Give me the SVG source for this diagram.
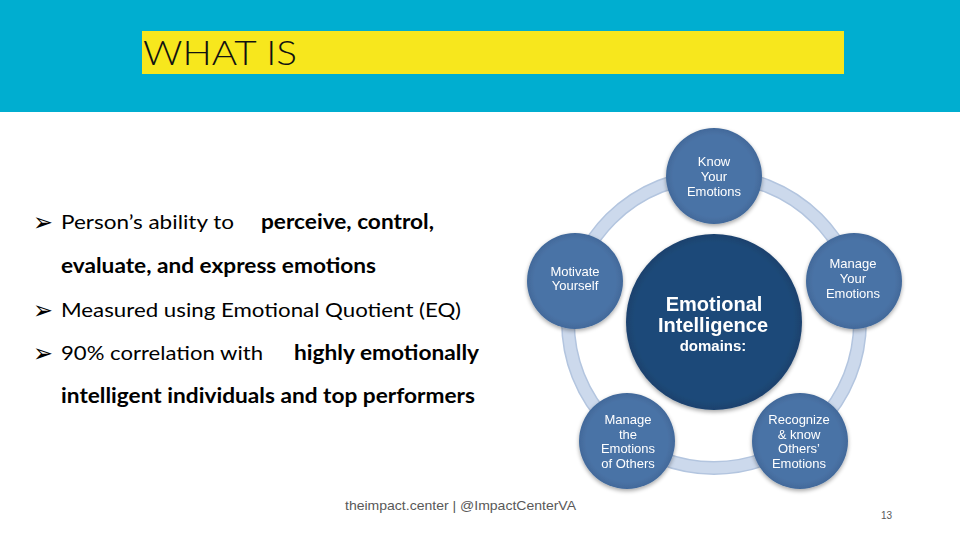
<svg xmlns="http://www.w3.org/2000/svg" width="960" height="540" viewBox="0 0 960 540">
<defs>
<style>
.body{font-family:Lato,"Open Sans","Liberation Sans",sans-serif;font-size:20px;fill:#000}
.b{font-weight:bold}
.bul{font-family:"DejaVu Sans",sans-serif;font-size:26px;fill:#000}
.ct{font-family:"Liberation Sans",Arial,sans-serif;font-size:13px;fill:#fff;text-anchor:middle}
.big{font-family:"Liberation Sans",Arial,sans-serif;font-weight:bold;fill:#fff;text-anchor:middle}
.outer{fill:url(#og)}
</style>
<radialGradient id="og" cx="50%" cy="50%" r="50%">
<stop offset="0.85" stop-color="#4A73A6"/>
<stop offset="1" stop-color="#42699A"/>
</radialGradient>
<radialGradient id="cg" cx="50%" cy="50%" r="50%">
<stop offset="0.9" stop-color="#1F4A79"/>
<stop offset="1" stop-color="#1A416D"/>
</radialGradient>
<filter id="sh" x="-20%" y="-20%" width="140%" height="140%">
<feGaussianBlur in="SourceAlpha" stdDeviation="2"/>
<feOffset dx="0" dy="1.5"/>
<feComponentTransfer><feFuncA type="linear" slope="0.35"/></feComponentTransfer>
<feMerge><feMergeNode/><feMergeNode in="SourceGraphic"/></feMerge>
</filter>
</defs>
<rect width="960" height="540" fill="#fff"/>
<g id="header">
<rect x="0" y="0" width="960" height="112" fill="#00AED0"/>
<rect x="142" y="31" width="702" height="43" fill="#F7E71D"/>
<text x="143" y="65" font-family="Lato,'Open Sans',sans-serif" font-weight="300" font-size="34" fill="#111" textLength="154" lengthAdjust="spacingAndGlyphs">WHAT IS</text>
</g>
<g id="bullets">
<text class="bul" x="33" y="231" textLength="20" lengthAdjust="spacingAndGlyphs">➢</text>
<text class="body" x="61" y="229" textLength="173" lengthAdjust="spacingAndGlyphs">Person’s ability to</text>
<text class="body b" x="261" y="229" textLength="173" lengthAdjust="spacingAndGlyphs">perceive, control,</text>
<text class="body b" x="61" y="273" textLength="315" lengthAdjust="spacingAndGlyphs">evaluate, and express emotions</text>
<text class="bul" x="33" y="319" textLength="20" lengthAdjust="spacingAndGlyphs">➢</text>
<text class="body" x="61" y="317" textLength="400" lengthAdjust="spacingAndGlyphs">Measured using Emotional Quotient (EQ)</text>
<text class="bul" x="33" y="362" textLength="20" lengthAdjust="spacingAndGlyphs">➢</text>
<text class="body" x="61" y="360" textLength="202" lengthAdjust="spacingAndGlyphs">90% correlation with</text>
<text class="body b" x="294" y="360" textLength="185" lengthAdjust="spacingAndGlyphs">highly emotionally</text>
<text class="body b" x="61" y="403" textLength="414" lengthAdjust="spacingAndGlyphs">intelligent individuals and top performers</text>
</g>
<g id="connectors">
<circle cx="714" cy="322" r="146" fill="none" stroke="#B3C5DF" stroke-width="14"/>
<circle cx="714" cy="322" r="146" fill="none" stroke="#CCD9EC" stroke-width="11"/>
</g>
<g id="center" filter="url(#sh)">
<circle cx="714" cy="322" r="88" fill="url(#cg)"/>
<text class="big" x="714" y="311" font-size="20">Emotional</text>
<text class="big" x="713" y="332" font-size="20">Intelligence</text>
<text class="big" x="713" y="351" font-size="15">domains:</text>
</g>
<g id="know" filter="url(#sh)">
<circle class="outer" cx="714" cy="176" r="48"/>
<text class="ct" x="714" y="166">Know</text>
<text class="ct" x="714" y="181">Your</text>
<text class="ct" x="714" y="196">Emotions</text>
</g>
<g id="manage-your" filter="url(#sh)">
<circle class="outer" cx="854" cy="281" r="48"/>
<text class="ct" x="853" y="268">Manage</text>
<text class="ct" x="853" y="283">Your</text>
<text class="ct" x="853" y="298">Emotions</text>
</g>
<g id="recognize" filter="url(#sh)">
<circle class="outer" cx="800" cy="441" r="48"/>
<text class="ct" x="799" y="424">Recognize</text>
<text class="ct" x="799" y="439">&amp; know</text>
<text class="ct" x="799" y="453">Others’</text>
<text class="ct" x="799" y="468">Emotions</text>
</g>
<g id="manage-others" filter="url(#sh)">
<circle class="outer" cx="627" cy="441" r="48"/>
<text class="ct" x="628" y="424">Manage</text>
<text class="ct" x="628" y="439">the</text>
<text class="ct" x="628" y="453">Emotions</text>
<text class="ct" x="628" y="468">of Others</text>
</g>
<g id="motivate" filter="url(#sh)">
<circle class="outer" cx="575" cy="281" r="48"/>
<text class="ct" x="575" y="276">Motivate</text>
<text class="ct" x="575" y="290">Yourself</text>
</g>
<g id="footer">
<text x="345" y="510" font-family="'Liberation Sans',Arial,sans-serif" font-size="13" fill="#595959" textLength="231" lengthAdjust="spacingAndGlyphs">theimpact.center | @ImpactCenterVA</text>
<text x="881" y="519" font-family="'Liberation Sans',Arial,sans-serif" font-size="10" fill="#595959">13</text>
</g>
</svg>
